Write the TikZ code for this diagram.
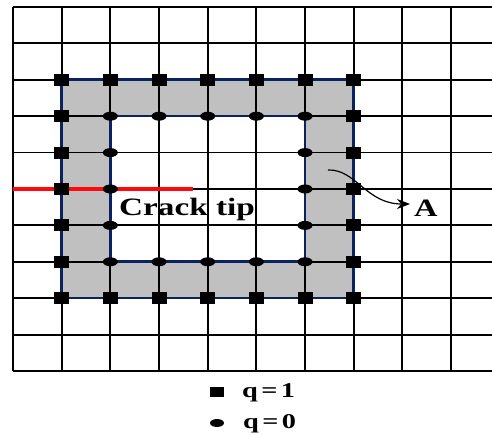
\documentclass[tikz,border=0pt]{standalone}
\usepackage{fontspec}
\setmainfont{Liberation Serif}
\usetikzlibrary{arrows.meta,shapes.geometric}
\definecolor{navyb}{RGB}{12,34,96}
\definecolor{bandgray}{RGB}{192,192,192}
\definecolor{crackred}{RGB}{255,10,10}
\tikzset{
  gridline/.style={black,line width=1.8pt},
  bound/.style={navyb,line width=2.6pt},
  sq/.style={rectangle,fill=black,inner sep=0pt,minimum width=15pt,minimum height=12pt},
  dot/.style={ellipse,fill=black,inner sep=0pt,minimum width=15pt,minimum height=9pt},
  lsq/.style={rectangle,fill=black,inner sep=0pt,minimum width=14pt,minimum height=10pt},
  ldot/.style={ellipse,fill=black,inner sep=0pt,minimum width=14pt,minimum height=8pt},
  lbl/.style={inner sep=0pt,font=\fontsize{25}{27}\selectfont\bfseries},
  legtxt/.style={inner sep=0pt,font=\fontsize{21}{23}\selectfont\bfseries}
}
\begin{document}
\begin{tikzpicture}[x=1pt,y=-1pt]
\useasboundingbox (0,0) rectangle (492,435);
% grid coordinates
\foreach \i in {0,...,9}{
  \foreach \j in {0,...,10}{
    \coordinate (g-\i-\j) at ({13+\i*48.67},{7+\j*36.4});
  }
}
\foreach \j in {0,...,10}{\coordinate (r-\j) at (492,{7+\j*36.4});}
% gray band
\fill[bandgray,even odd rule] (g-1-2) rectangle (g-7-8) (g-2-3) rectangle (g-6-7);
% grid
\foreach \i in {0,...,9}{\draw[gridline] (g-\i-0) -- (g-\i-10);}
\foreach \j in {0,...,10}{\draw[gridline] (g-0-\j) -- (r-\j);}
% boundaries
\draw[bound] (g-1-2) rectangle (g-7-8);
\draw[bound] (g-2-3) rectangle (g-6-7);
% crack
\coordinate (crackend) at (193,{7+5*36.4});
\draw[crackred,line width=4.5pt] (g-0-5) -- (crackend);
% outer squares (q=1)
\foreach \i in {1,...,7}{
  \node[sq] (st-\i) at (g-\i-2) {};
  \node[sq] (sb-\i) at (g-\i-8) {};
}
\foreach \j in {3,...,7}{
  \node[sq] (sl-\j) at (g-1-\j) {};
  \node[sq] (sr-\j) at (g-7-\j) {};
}
% inner dots (q=0)
\foreach \i in {2,...,6}{
  \node[dot] (dt-\i) at (g-\i-3) {};
  \node[dot] (db-\i) at (g-\i-7) {};
}
\foreach \j in {4,5,6}{
  \node[dot] (dl-\j) at (g-2-\j) {};
  \node[dot] (dr-\j) at (g-6-\j) {};
}
% labels
\node[lbl,anchor=base west] (crack) at (119,216) {\scalebox{1.33}[1]{Crack tip}};
\node[lbl,anchor=base west] (A) at (414,217) {\scalebox{1.3}[1]{A}};
\coordinate (astart) at (328,170);
\draw[line width=1.2pt,-{Stealth[length=13pt,width=10pt]}] (astart) .. controls (356,169) and (366,204) .. (410,204);
% legend
\node[lsq] (legsq) at (217,392) {};
\node[ldot] (legdot) at (217,423) {};
\node[legtxt,anchor=base west] (q1) at (242,397) {\scalebox{1.35}[1]{q\hspace{0.12em}=\hspace{0.12em}1}};
\node[legtxt,anchor=base west] (q0) at (243,428) {\scalebox{1.35}[1]{q\hspace{0.12em}=\hspace{0.12em}0}};
\end{tikzpicture}
\end{document}
